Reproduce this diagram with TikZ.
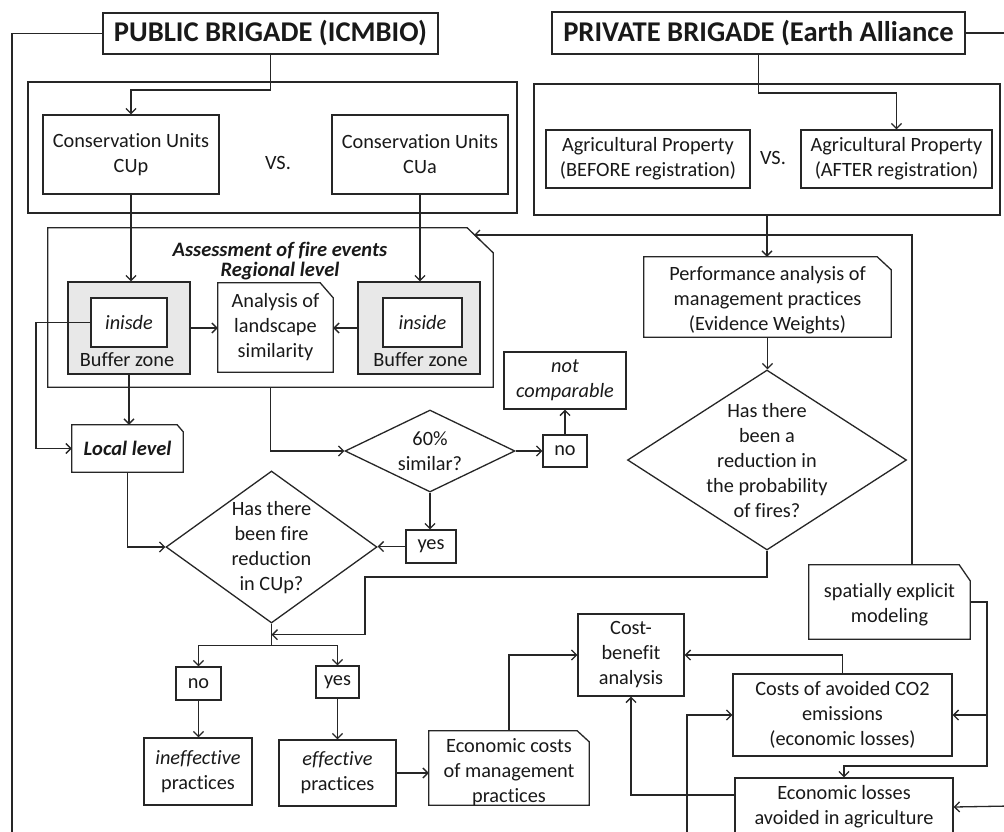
\documentclass[tikz,border=0pt]{standalone}
\usepackage{fontspec}
\setmainfont{Carlito}[Ligatures=NoCommon,RawFeature={-liga;-calt;-dlig}]
\usetikzlibrary{arrows.meta,shapes.geometric,calc}
\newcommand{\bodyfs}{\fontsize{20.3}{25}\selectfont}
\newcommand{\titlefs}{\fontsize{28.6}{32}\selectfont\bfseries}
\newcommand{\bifs}{\fontsize{20.5}{19.5}\selectfont\bfseries\itshape}
\newcommand{\dogear}[3]{\draw[line] (#1.south west) -- (#1.north west) -- ([xshift=-#2pt]#1.north east) -- ([yshift=-#3pt]#1.north east) -- (#1.south east) -- cycle;}
\begin{document}
\begin{tikzpicture}[x=1pt,y=-1pt,
  line/.style={line width=1.3pt, draw=black!85},
  arr/.style={line, -{Straight Barb[length=5pt,width=10pt]}},
  box/.style={draw=black!85, line width=1.3pt, inner sep=0pt, align=center, font=\bodyfs, text=black!90},
  plain/.style={inner sep=0pt, align=center, font=\bodyfs, text=black!90},
  dia/.style={draw=black!85, line width=1.3pt, shape=diamond, inner sep=0pt},
  buf/.style={box, fill=gray!18}]
\useasboundingbox (0,0) rectangle (1004,831);
\fill[white] (0,0) rectangle (1004,831);
\clip (0,0) rectangle (1004,831);

% top brigades
\node[box, font=\titlefs, minimum width=335pt, minimum height=41pt] (pub) at (270.5,33.5) {PUBLIC BRIGADE (ICMBIO)};
\node[box, font=\titlefs, minimum width=413pt, minimum height=42pt] (priv) at (758.5,33) {PRIVATE BRIGADE (Earth Alliance};

% comparison frames
\node[box, minimum width=489pt, minimum height=131pt] (outA) at (272.5,147.5) {};
\node[box, minimum width=176pt, minimum height=79pt] (cup) at (131,154.5) {Conservation Units\\CUp};
\node[plain] (vsA) at (278,163) {VS.};
\node[box, minimum width=176pt, minimum height=79pt] (cua) at (420,154.5) {Conservation Units\\CUa};
\node[box, minimum width=466pt, minimum height=131pt] (outB) at (767,149.5) {};
\node[box, minimum width=204pt, minimum height=58pt] (bef) at (648,159) {Agricultural Property\\(BEFORE registration)};
\node[plain] (vsB) at (773,158) {VS.};
\node[box, minimum width=191pt, minimum height=58pt] (aft) at (896.5,159) {Agricultural Property\\(AFTER registration)};

% assessment block
\node[plain, minimum width=445pt, minimum height=159pt] (assess) at (270.5,307.5) {};
\dogear{assess}{26}{25}
\node[plain, font=\bifs] (asst) at (280,261) {Assessment of fire events\\Regional level};
\node[buf, minimum width=122pt, minimum height=92pt] (bufL) at (129,328) {};
\node[box, fill=white, minimum width=76pt, minimum height=49pt, font=\bodyfs\itshape] (inL) at (129,322.5) {inisde};
\node[plain] (bzL) at (127,360) {Buffer zone};
\node[buf, minimum width=122pt, minimum height=92pt] (bufR) at (419,328) {};
\node[box, fill=white, minimum width=79pt, minimum height=49pt, font=\bodyfs\itshape] (inR) at (422.5,322.5) {inside};
\node[plain] (bzR) at (420.5,360) {Buffer zone};
\node[plain, minimum width=115pt, minimum height=89pt] (anal) at (275.5,327.5) {Analysis of\\landscape\\similarity};
\dogear{anal}{13}{15}

% local / decisions
\node[plain, font=\fontsize{20.5}{25}\selectfont\bfseries\itshape, minimum width=111pt, minimum height=47pt] (local) at (127.5,448.5) {Local level};
\dogear{local}{6}{7}
\node[dia, minimum width=170pt, minimum height=82pt] (d60) at (430,451) {};
\node[plain] (d60t) at (430,451.5) {60\%\\similar?};
\node[box, minimum width=44pt, minimum height=32pt] (noA) at (565,451) {no};
\node[box, minimum width=122pt, minimum height=57pt, font=\bodyfs\itshape] (nc) at (565,380.5) {not\\comparable};
\node[box, minimum width=50pt, minimum height=33pt] (yesA) at (431,546.5) {yes};
\node[dia, minimum width=211pt, minimum height=152pt] (dfire) at (271.5,547) {};
\node[plain] (dfiret) at (271.5,547.5) {Has there\\been fire\\reduction\\in CUp?};
\node[box, minimum width=45pt, minimum height=33pt] (noB) at (198.5,683.5) {no};
\node[box, minimum width=43pt, minimum height=32pt] (yesB) at (337.5,682) {yes};
\node[box, minimum width=108pt, minimum height=67pt] (ineff) at (198,771.5) {\textit{ineffective}\\practices};
\node[box, minimum width=117pt, minimum height=66pt] (eff) at (337.5,773) {\textit{effective}\\practices};
\node[plain, minimum width=160pt, minimum height=74pt] (ecost) at (509,768) {};
\dogear{ecost}{12}{11}
\node[plain] (ecostt) at (509,772) {Economic costs\\of management\\practices};

% economics
\node[box, minimum width=106pt, minimum height=82pt] (cb) at (631,655) {Cost-\\benefit\\analysis};
\node[box, minimum width=219pt, minimum height=82pt] (co2) at (842.5,715) {Costs of avoided CO2\\emissions\\(economic losses)};
\node[box, minimum width=218pt, minimum height=58pt] (eloss) at (844,807) {Economic losses\\avoided in agriculture};

% private branch
\node[plain, minimum width=247pt, minimum height=80pt] (perf) at (767.5,297) {};
\dogear{perf}{14}{13}
\node[plain] (perft) at (767.5,300) {Performance analysis of\\management practices\\(Evidence Weights)};
\node[dia, minimum width=279pt, minimum height=180pt] (dprob) at (767,460) {};
\node[plain] (dprobt) at (767,461) {Has there\\been a\\reduction in\\the probability\\of fires?};
\node[plain, minimum width=161pt, minimum height=74pt] (spat) at (889.5,602) {};
\dogear{spat}{11}{16}
\node[plain] (spatt) at (889.5,605) {spatially explicit\\modeling};

% free ends
\coordinate (lb) at (12,840);
\coordinate (rt) at (1010,33);
\coordinate (re) at (1010,806);
\coordinate (be) at (687,840);
\coordinate (ac) at (474,235);

% connectors
\draw[line] (pub.west) -| (lb);
\draw[line] (priv.east) -- (rt);
\draw[arr] (pub.south) |- (131,90) -- (cup.north);
\draw[arr] (priv.south) |- (896.5,93) -- (aft.north);
\draw[arr] (cup.south) -- (cup.south |- bufL.north);
\draw[arr] (cua.south) -- (cua.south |- bufR.north);
\draw[arr] (bufL.east) -- (bufL.east -| anal.west);
\draw[arr] (bufR.west) -- (bufR.west -| anal.east);
\draw[arr] (inL.west) -- (36,322.5) |- (local.west);
\draw[arr] (bufL.south) -- (bufL.south |- local.north);
\draw[arr] (assess.south) |- (d60.west);
\draw[arr] (d60.east) -- (noA.west);
\draw[arr] (noA.north) -- (nc.south);
\draw[arr] (d60.south) -- (d60.south |- yesA.north);
\draw[arr] (yesA.west) -- (yesA.west -| dfire.east);
\draw[arr] (local.south) |- (dfire.west);
\path (dfire.south) ++(0,11) coordinate (jn) ++(0,11) coordinate (sp);
\draw[line] (dfire.south) -- (sp);
\draw[arr] (sp) -| (noB.north);
\draw[arr] (sp) -| (yesB.north);
\draw[arr] (dprob.south) |- (365,577) |- (jn);
\draw[arr] (noB.south) -- (noB.south |- ineff.north);
\draw[arr] (yesB.south) -- (yesB.south |- eff.north);
\draw[arr] (eff.east) -- (eff.east -| ecost.west);
\draw[arr] (ecost.north) |- (cb.west);
\draw[arr] (co2.north) |- (cb.east);
\draw[arr] ($(eloss.west)+(0,-12)$) -| (cb.south);
\draw[arr] (spat.east) -| (987,766) -| (eloss.north);
\draw[arr] (987,715) -- (co2.east);
\draw[arr] (re) -- (eloss.east);
\draw[arr] (be) |- (co2.west);
\draw[arr] ($(spat.north)+(22.5,0)$) |- (ac);
\draw[arr] (outB.south) -- (outB.south |- perf.north);
\draw[arr] (perf.south) -- (perf.south |- dprob.north);
\end{tikzpicture}
\end{document}
